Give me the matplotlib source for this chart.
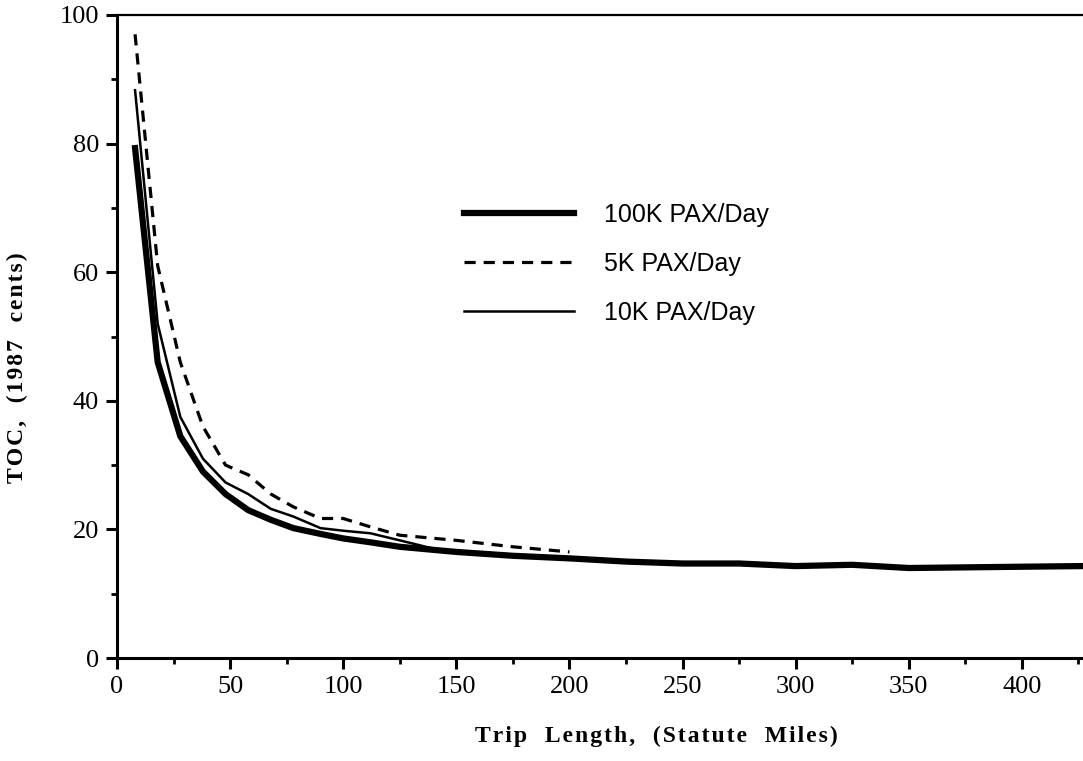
import numpy as np
import matplotlib.pyplot as plt
from matplotlib.ticker import MultipleLocator

# trip length (statute miles) and TOC (1987 cents)
x_100k = [8, 18, 28, 38, 48, 58, 68, 78, 90, 100, 112, 125, 150, 175, 200,
          225, 250, 275, 300, 325, 350, 375, 400, 427]
toc_100k = [79.3, 46, 34.5, 29, 25.5, 23, 21.5, 20.2, 19.3, 18.6, 18, 17.3,
            16.5, 15.9, 15.5, 15, 14.7, 14.7, 14.3, 14.5, 14.0, 14.1, 14.2, 14.3]

x_5k = [8, 18, 28, 38, 48, 58, 68, 78, 90, 100, 112, 125, 150, 175, 200]
toc_5k = [97, 61, 46, 36, 30, 28.5, 25.5, 23.5, 21.7, 21.7, 20.4, 19.1,
          18.3, 17.3, 16.5]

x_10k = [8, 18, 28, 38, 48, 58, 68, 78, 90, 100, 112, 125, 140, 175, 200]
toc_10k = [88.3, 52, 37.5, 31, 27.3, 25.5, 23.2, 22, 20.2, 19.8, 19.4, 18.3,
           17, 15.9, 15.5]


def spaced(s):
    # the original labels are letter-spaced; fake it with hair spaces
    return "\u200a".join(s)


fig = plt.figure(figsize=(10.83, 7.61), dpi=100)
ax = fig.add_axes([0.108, 0.1353, 0.892, 0.845])

ax.plot(x_10k, toc_10k, color="black", lw=1.8, label="10K PAX/Day", zorder=2)
ax.plot(x_5k, toc_5k, color="black", lw=2.3, dashes=(3.5, 2.5), label="5K PAX/Day", zorder=3)
ax.plot(x_100k, toc_100k, color="black", lw=4.5, label="100K PAX/Day", zorder=4)

ax.set_xlim(0, 427)
ax.set_ylim(0, 100)
ax.xaxis.set_major_locator(MultipleLocator(50))
ax.xaxis.set_minor_locator(MultipleLocator(25))
ax.yaxis.set_major_locator(MultipleLocator(20))
ax.yaxis.set_minor_locator(MultipleLocator(10))
ax.tick_params(which="major", direction="out", length=8, width=2.2,
               labelsize=19, pad=5)
ax.tick_params(which="minor", direction="out", length=4, width=2)
for lab in ax.get_xticklabels() + ax.get_yticklabels():
    lab.set_family("Liberation Serif")

ax.spines["right"].set_visible(False)
ax.spines["left"].set_linewidth(2.2)
ax.spines["bottom"].set_linewidth(2.2)
ax.spines["top"].set_linewidth(1.6)

serif = ["Liberation Serif", "DejaVu Serif"]
ax.set_xlabel(spaced("Trip  Length,  (Statute  Miles)"), family=serif,
              fontweight="bold", fontsize=17)
ax.set_ylabel(spaced("TOC,  (1987  cents)"), family=serif,
              fontweight="bold", fontsize=17)
ax.xaxis.set_label_coords(0.558, -0.105)
ax.yaxis.set_label_coords(-0.092, 0.451)

handles, labels = ax.get_legend_handles_labels()
order = [2, 1, 0]
ax.legend([handles[i] for i in order], [labels[i] for i in order],
          loc="upper left", bbox_to_anchor=(0.336, 0.743), frameon=False,
          prop={"family": "Liberation Sans", "size": 18},
          handlelength=4.4, handletextpad=1.2, labelspacing=1.0)

plt.savefig("out.png", dpi=100)
